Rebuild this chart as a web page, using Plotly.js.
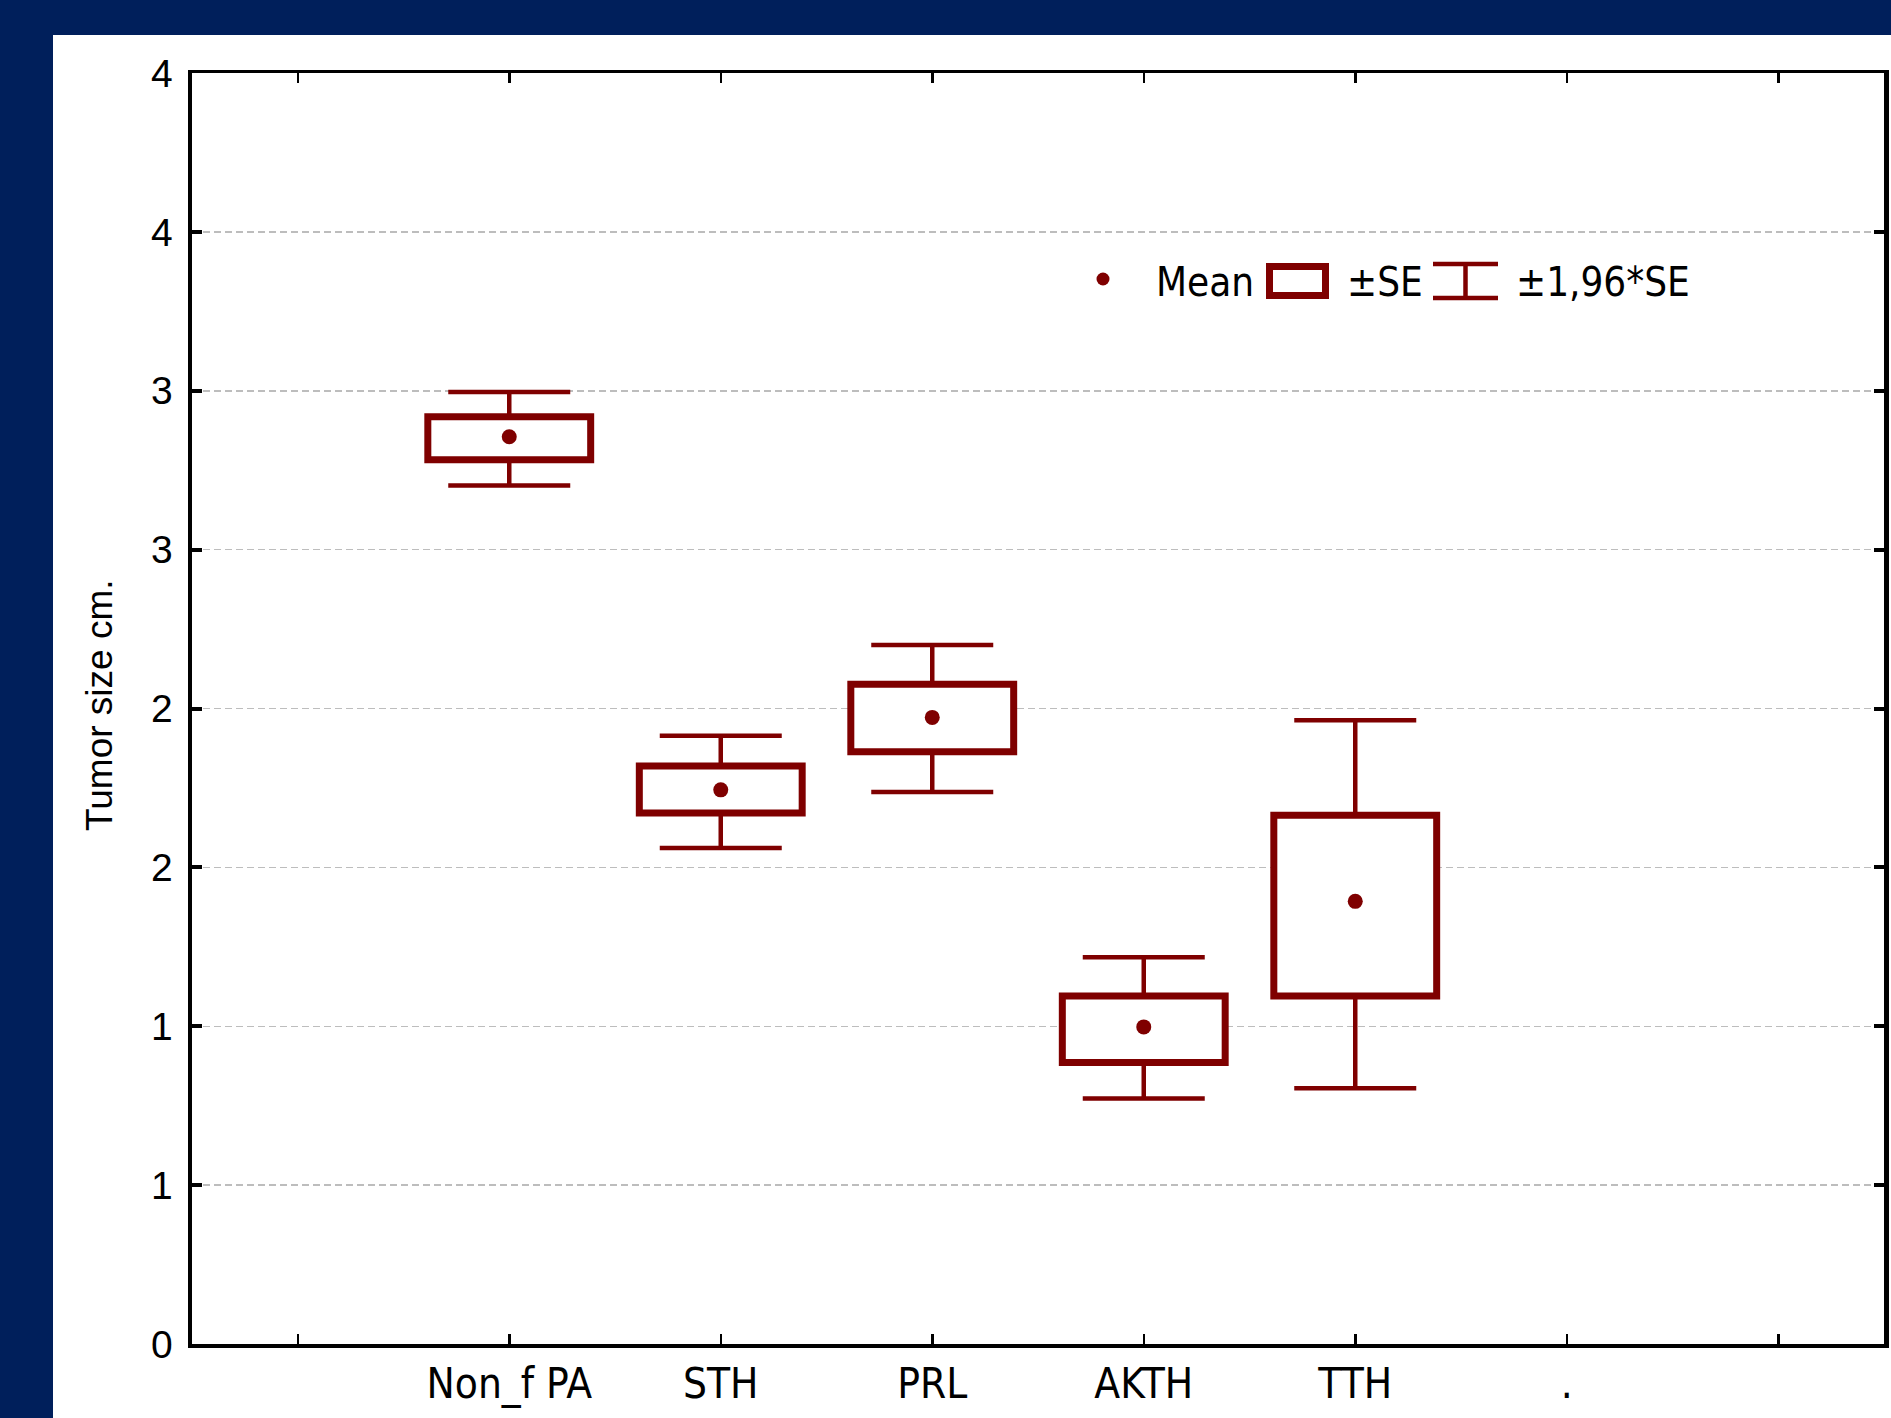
<!DOCTYPE html>
<html>
<head>
<meta charset="utf-8">
<script src="https://cdn.plot.ly/plotly-3.0.1.min.js"></script>
<style>
  html, body { margin: 0; padding: 0; background: #001f5b; width: 1891px; height: 1418px; overflow: hidden; }
  #chart { position: absolute; left: 53px; top: 35px; width: 1838px; height: 1383px; background: #ffffff; }
</style>
</head>
<body>
<div id="chart"></div>
<script>
// ---- data ----
const categories = ['Non_f PA', 'STH', 'PRL', 'AKTH', 'TTH'];
const means      = [2.855, 1.744, 1.972, 0.998, 1.393];
const seHigh     = [2.918, 1.819, 2.076, 1.095, 1.664];   // mean + SE
const seLow      = [2.783, 1.671, 1.864, 0.886, 1.095];   // mean - SE
const ciHigh     = [2.996, 1.914, 2.200, 1.217, 1.963];   // mean + 1.96*SE
const ciLow      = [2.702, 1.561, 1.737, 0.773, 0.805];   // mean - 1.96*SE
const yTickVals  = [0, 0.5, 1, 1.5, 2, 2.5, 3, 3.5, 4];
const yTickText  = ['0', '1', '1', '2', '2', '3', '3', '4', '4'];
const xTickText  = ['', 'Non_f PA', 'STH', 'PRL', 'AKTH', 'TTH', '.', ''];
const legendLabels = ['Mean', '\u00b1SE', '\u00b11,96*SE'];

// ---- styling ----
const RED = '#7f0000';
const NARROW = '"DejaVu Sans Condensed", "Liberation Sans Narrow", "Arial Narrow", sans-serif';
const REG = '"Liberation Sans", Arial, sans-serif';

const xIdx = categories.map((_, i) => i + 1);
const xTickVals = xTickText.map((_, i) => i);

// page pixel -> paper coords (plot area: x 192..1884, y 73..1344 in page px)
const PL = 192, PR = 1884, PT = 73, PB = 1344;
const px = v => (v - PL) / (PR - PL);
const py = v => (PB - v) / (PB - PT);

const boxTrace = {
  type: 'bar',
  x: xIdx,
  base: seLow,
  y: seHigh.map((h, i) => h - seLow[i]),
  width: 0.77,
  marker: { color: '#ffffff', line: { color: RED, width: 7 } },
  hoverinfo: 'skip',
  showlegend: false
};

const upperWhisker = {
  type: 'scatter', mode: 'markers',
  x: xIdx, y: seHigh,
  marker: { size: 1, opacity: 0 },
  error_y: {
    type: 'data', symmetric: false,
    array: ciHigh.map((c, i) => c - seHigh[i]),
    arrayminus: ciHigh.map(() => 0),
    width: 61, thickness: 4.5, color: RED
  },
  hoverinfo: 'skip', showlegend: false
};

const lowerWhisker = {
  type: 'scatter', mode: 'markers',
  x: xIdx, y: seLow,
  marker: { size: 1, opacity: 0 },
  error_y: {
    type: 'data', symmetric: false,
    array: ciLow.map(() => 0),
    arrayminus: ciLow.map((c, i) => seLow[i] - c),
    width: 61, thickness: 4.5, color: RED
  },
  hoverinfo: 'skip', showlegend: false
};

const meanTrace = {
  type: 'scatter', mode: 'markers',
  x: xIdx, y: means,
  marker: { symbol: 'circle', size: 15, color: RED },
  showlegend: false
};

// legend drawn by hand (box / I-beam icons)
const legY = 282;
const shapes = [
  { type: 'circle', xref: 'paper', yref: 'paper',
    x0: px(1096.5), x1: px(1109.5), y0: py(272.5), y1: py(285.5),
    fillcolor: RED, line: { width: 0 } },
  { type: 'rect', xref: 'paper', yref: 'paper',
    x0: px(1269.5), x1: px(1325.5), y0: py(295.5), y1: py(266.5),
    fillcolor: '#ffffff', line: { color: RED, width: 7 } },
  { type: 'line', xref: 'paper', yref: 'paper',
    x0: px(1433), x1: px(1498), y0: py(264), y1: py(264), line: { color: RED, width: 4.5 } },
  { type: 'line', xref: 'paper', yref: 'paper',
    x0: px(1433), x1: px(1498), y0: py(298), y1: py(298), line: { color: RED, width: 4.5 } },
  { type: 'line', xref: 'paper', yref: 'paper',
    x0: px(1465.5), x1: px(1465.5), y0: py(264), y1: py(298), line: { color: RED, width: 4.5 } }
];

const legX = [1154, 1345, 1514];
const annotations = legendLabels.map((t, i) => ({
  text: t, xref: 'paper', yref: 'paper', x: px(legX[i]), y: py(legY),
  xanchor: 'left', yanchor: 'middle', showarrow: false,
  font: { family: NARROW, size: 40, color: '#000000' }
}));
annotations.push({
  text: 'Tumor size cm.', xref: 'paper', yref: 'paper',
  x: px(99), y: py(706), xanchor: 'center', yanchor: 'middle',
  textangle: -90, showarrow: false,
  font: { family: REG, size: 37, color: '#000000' }
});

const layout = {
  width: 1838, height: 1383,
  margin: { l: PL - 53, r: 1891 - PR, t: PT - 35, b: 1418 - PB, pad: 0 },
  paper_bgcolor: '#ffffff', plot_bgcolor: '#ffffff',
  showlegend: false,
  xaxis: {
    range: [-0.5, 7.5], tickmode: 'array', tickvals: xTickVals, ticktext: xTickText,
    showgrid: false, zeroline: false,
    showline: true, linecolor: '#000000', linewidth: 3.5, mirror: 'ticks',
    ticks: 'inside', ticklen: 10, tickwidth: 2.5, tickcolor: '#000000',
    ticklabelstandoff: 0,
    tickfont: { family: NARROW, size: 42, color: '#000000' },
    fixedrange: true
  },
  yaxis: {
    range: [0, 4], tickmode: 'array', tickvals: yTickVals, ticktext: yTickText,
    showgrid: true, gridcolor: '#bdbdbd', gridwidth: 1.5, griddash: '7px,4px',
    zeroline: false,
    showline: true, linecolor: '#000000', linewidth: 4.5, mirror: 'ticks',
    ticks: 'inside', ticklen: 10, tickwidth: 4, tickcolor: '#000000',
    ticklabelstandoff: 7,
    tickfont: { family: REG, size: 39, color: '#000000' },
    fixedrange: true
  },
  shapes: shapes,
  annotations: annotations,
  bargap: 0
};

Plotly.newPlot('chart', [boxTrace, upperWhisker, lowerWhisker, meanTrace], layout,
  { staticPlot: true, displayModeBar: false });
</script>
</body>
</html>
